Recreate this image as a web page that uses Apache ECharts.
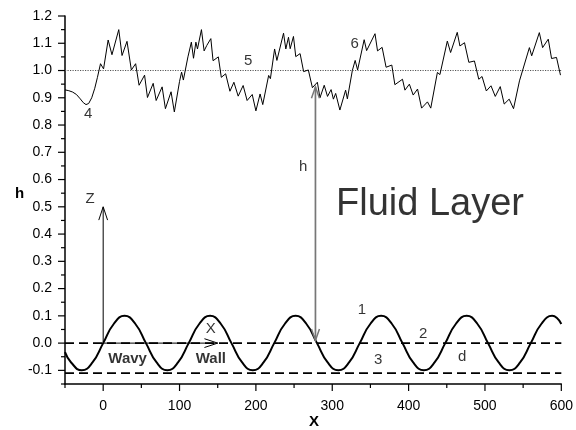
<!DOCTYPE html>
<html>
<head>
<meta charset="utf-8">
<script src="https://cdn.jsdelivr.net/npm/echarts@6/dist/echarts.min.js"></script>
<style>
  html, body { margin: 0; padding: 0; background: #fff; }
  #chart { width: 576px; height: 430px; }
</style>
</head>
<body>
<div id="chart"></div>
<script>
// Wavy wall profile (curve 1)
const wallX = [-50, -42, -28, -14, 0, 14, 28, 42, 56, 70, 84, 98, 112, 126, 140, 154, 168, 182, 196, 210,
  224, 238, 252, 266, 280, 294, 308, 322, 336, 350, 364, 378, 392, 406, 420, 434, 448, 462, 476, 490,
  504, 518, 532, 546, 560, 574, 588, 600];
const wallH = [-0.033, -0.071, -0.1, -0.071, 0, 0.071, 0.1, 0.071, 0, -0.071, -0.1, -0.071, 0, 0.071, 0.1, 0.071, 0, -0.071, -0.1, -0.071,
  0, 0.071, 0.1, 0.071, 0, -0.071, -0.1, -0.071, 0, 0.071, 0.1, 0.071, 0, -0.071, -0.1, -0.071, 0, 0.071, 0.1, 0.071,
  0, -0.071, -0.1, -0.071, 0, 0.071, 0.1, 0.07];

// Free surface of the fluid layer (curve 6)
const surfX = [-50, -45, -40, -35, -30, -26, -22.5, -19, -15, -11, -7.5, -3.5, 0.5, 6.5, 11.5, 20.4, 24.7, 31.2, 36.9, 42.5,
  47, 54.2, 58, 65.5, 69.4, 77.2, 81.5, 88.9, 93.2, 100, 102.7, 105, 111, 115.5, 118.3, 121.4, 123.5, 128.7, 132.2, 135.7,
  141, 143.9, 150.8, 154.7, 160.4, 166, 171.2, 176.8, 183.3, 188.5, 195.2, 200, 205.5, 209, 216.7, 219, 224.5, 227.5, 236.2, 239.2,
  242.7, 244.9, 249.2, 252.2, 257.9, 262.5, 268.7, 274, 280.5, 283.9, 289.5, 293.8, 298.5, 301.5, 304.5, 310, 317.5, 319.8, 326.3, 330,
  333.2, 341.8, 345, 356, 359.3, 365.3, 370.5, 378, 382, 392, 395.2, 401, 406, 411.7, 417, 424.7, 429, 437.7, 441, 450.7,
  455, 463.7, 467.2, 473.2, 478.9, 486.2, 491.9, 496.2, 501.8, 507.9, 513.5, 520, 525.2, 531.7, 537.4, 545.2, 547.5, 558.2, 561.2, 571.2,
  575.5, 582.9, 587.2, 593.7, 598.9];
const surfH = [0.929, 0.926, 0.921, 0.912, 0.896, 0.882, 0.875, 0.879, 0.900, 0.935, 0.975, 1.025, 1.006, 1.112, 1.058, 1.150, 1.055, 1.107, 1.002, 1.025,
  0.946, 0.983, 0.901, 0.953, 0.890, 0.940, 0.860, 0.922, 0.848, 0.960, 0.994, 0.965, 1.050, 1.104, 1.045, 1.104, 1.079, 1.150, 1.072, 1.092,
  1.117, 1.036, 1.050, 0.975, 0.988, 0.924, 0.957, 0.906, 0.945, 0.890, 0.912, 0.852, 0.914, 0.875, 0.982, 0.970, 1.079, 1.037, 1.137, 1.079,
  1.122, 1.080, 1.125, 1.051, 1.062, 0.996, 1.002, 0.937, 0.957, 0.900, 0.946, 0.905, 0.930, 0.895, 0.916, 0.855, 0.928, 0.896, 1.000, 1.037,
  1.002, 1.113, 1.073, 1.135, 1.072, 1.085, 1.012, 1.020, 0.948, 0.968, 0.928, 0.950, 0.910, 0.932, 0.862, 0.885, 0.862, 0.993, 0.985, 1.108,
  1.066, 1.140, 1.090, 1.102, 1.030, 1.035, 0.968, 0.978, 0.925, 0.944, 0.905, 0.941, 0.877, 0.895, 0.860, 0.962, 0.955, 1.084, 1.054, 1.139,
  1.084, 1.115, 1.044, 1.048, 0.983];

// Horizontal reference levels: mean wall (2), trough level (3), mean depth (5)
const wallLevel = 0.0;
const troughLevel = -0.11;
const meanDepth = 1.0;

// Axis extents and ticks
const xRange = [-50, 600];
const yRange = [-0.15, 1.2];
const xTicks = [0, 100, 200, 300, 400, 500, 600];
const xMinorTicks = [-50, 50, 150, 250, 350, 450, 550];
const yTicks = [-0.1, 0, 0.1, 0.2, 0.3, 0.4, 0.5, 0.6, 0.7, 0.8, 0.9, 1.0, 1.1, 1.2];
const yMinorTicks = [-0.15, -0.05, 0.05, 0.15, 0.25, 0.35, 0.45, 0.55, 0.65, 0.75, 0.85, 0.95, 1.05, 1.15];

// Coordinate frame arrows (Z, X) and the depth arrow h
const zArrow = [[0, 0], [0, 0.5]];
const xArrow = [[0, 0], [150, 0]];
const hArrow = [[278, 0.01], [278, 0.94]];

// Annotations
const noteText = ['1', '2', '3', 'd', '4', '5', '6', 'h', 'Fluid Layer', 'Z', 'X', 'Wavy', 'Wall'];
const noteX = [339, 419, 360, 470, -19.5, 190, 329.4, 262, 428, -17.3, 141, 32, 141];
const noteH = [0.122, 0.034, -0.060, -0.051, 0.840, 1.035, 1.099, 0.645, 0.508, 0.529, 0.052, -0.058, -0.058];

const FONT = '"Liberation Sans", Arial, Helvetica, sans-serif';

function pairs(xs, ys) { return xs.map((x, i) => [x, ys[i]]); }
function level(h) { return [[xRange[0], h], [xRange[1], h]]; }

function noteStyle(t) {
  if (t === 'Fluid Layer') return { fontSize: 38, fontWeight: 'normal' };
  if (t === 'Wavy' || t === 'Wall') return { fontSize: 15, fontWeight: 'bold' };
  return { fontSize: 15, fontWeight: 'normal' };
}

function arrowHead(color, len, half, width) {
  return function (params, api) {
    const tip = api.coord([api.value(0), api.value(1)]);
    const from = api.coord([api.value(2), api.value(3)]);
    const a = Math.atan2(tip[1] - from[1], tip[0] - from[0]);
    const p1 = [tip[0] - len * Math.cos(a - half), tip[1] - len * Math.sin(a - half)];
    const p2 = [tip[0] - len * Math.cos(a + half), tip[1] - len * Math.sin(a + half)];
    return {
      type: 'polyline',
      shape: { points: [p1, tip, p2] },
      style: { stroke: color, lineWidth: width, fill: null }
    };
  };
}

function headData(seg, both) {
  const d = [[seg[1][0], seg[1][1], seg[0][0], seg[0][1]]];
  if (both) d.push([seg[0][0], seg[0][1], seg[1][0], seg[1][1]]);
  return d;
}

// Outward tick marks, positioned through the axis scales
function tickSeries(values, dim, len) {
  return {
    type: 'custom', silent: true, z: 7, animation: false, clip: false,
    data: values.map(v => dim === 'x' ? [v, yRange[0]] : [xRange[0], v]),
    encode: { x: 0, y: 1 },
    renderItem: function (params, api) {
      const p = api.coord([api.value(0), api.value(1)]);
      const q = dim === 'x' ? [p[0], p[1] + len] : [p[0] - len, p[1]];
      return {
        type: 'line',
        shape: { x1: p[0], y1: p[1], x2: q[0], y2: q[1] },
        style: { stroke: '#000', lineWidth: 1.2 }
      };
    }
  };
}

const chart = echarts.init(document.getElementById('chart'), null, { renderer: 'canvas' });

const baseLine = (data, style, z) => ({
  type: 'line', data: data, symbol: 'none', showSymbol: false, silent: true,
  lineStyle: style, z: z || 2, animation: false
});

const option = {
  animation: false,
  backgroundColor: '#fff',
  textStyle: { fontFamily: FONT },
  grid: { left: 65, right: 11, top: 16, bottom: 46, containLabel: false },
  xAxis: {
    type: 'value', min: xRange[0], max: xRange[1], position: 'bottom',
    axisLine: { show: true, onZero: false, lineStyle: { color: '#000', width: 1.5 } },
    axisTick: { show: false },
    axisLabel: { show: true, customValues: xTicks, margin: 15, color: '#000', fontSize: 14, fontFamily: FONT },
    splitLine: { show: false }
  },
  yAxis: {
    type: 'value', min: yRange[0], max: yRange[1], position: 'left',
    axisLine: { show: true, onZero: false, lineStyle: { color: '#000', width: 1.5 } },
    axisTick: { show: false },
    axisLabel: {
      show: true, customValues: yTicks, margin: 13, color: '#000', fontSize: 14, fontFamily: FONT,
      formatter: v => Number(v).toFixed(1)
    },
    splitLine: { show: false }
  },
  graphic: [
    { type: 'text', left: 309, top: 414, style: { text: 'X', font: 'bold 15px ' + FONT, fill: '#000' } },
    { type: 'text', left: 15, top: 186, style: { text: 'h', font: 'bold 15px ' + FONT, fill: '#000' } }
  ],
  series: [
    // reference levels
    baseLine(level(meanDepth), { color: '#555', width: 1, type: [1.2, 1.3] }, 1),
    baseLine(level(wallLevel), { color: '#000', width: 1.6, type: [9, 5] }, 1),
    baseLine(level(troughLevel), { color: '#000', width: 1.6, type: [9, 5] }, 1),
    // wall and free surface
    Object.assign(baseLine(pairs(wallX, wallH), { color: '#000', width: 2 }, 3), { smooth: 0.5 }),
    baseLine(pairs(surfX, surfH), { color: '#000', width: 1 }, 3),
    // arrow shafts
    baseLine(zArrow, { color: '#000', width: 1 }, 4),
    baseLine(xArrow, { color: '#000', width: 1 }, 4),
    baseLine(hArrow, { color: '#777', width: 1.7 }, 4),
    // arrow heads
    {
      type: 'custom', silent: true, z: 5, animation: false,
      dimensions: ['x', 'y', 'fx', 'fy'], encode: { x: 0, y: 1 },
      data: headData(zArrow).concat(headData(xArrow)),
      renderItem: arrowHead('#000', 14, 0.32, 1)
    },
    {
      type: 'custom', silent: true, z: 5, animation: false,
      dimensions: ['x', 'y', 'fx', 'fy'], encode: { x: 0, y: 1 },
      data: headData(hArrow, true),
      renderItem: arrowHead('#777', 12, 0.34, 1.5)
    },
    // axis ticks
    tickSeries(xTicks, 'x', 7),
    tickSeries(xMinorTicks, 'x', 4),
    tickSeries(yTicks, 'y', 7),
    tickSeries(yMinorTicks, 'y', 4),
    // annotations
    {
      type: 'scatter', silent: true, z: 6, animation: false,
      symbolSize: 1, itemStyle: { color: 'rgba(0,0,0,0)' },
      data: noteText.map((t, i) => {
        const s = noteStyle(t);
        return {
          name: t, value: [noteX[i], noteH[i]],
          label: {
            show: true, position: 'inside', formatter: t, color: '#000',
            fontFamily: FONT, fontSize: s.fontSize, fontWeight: s.fontWeight
          }
        };
      })
    }
  ]
};

chart.setOption(option);
</script>
</body>
</html>
